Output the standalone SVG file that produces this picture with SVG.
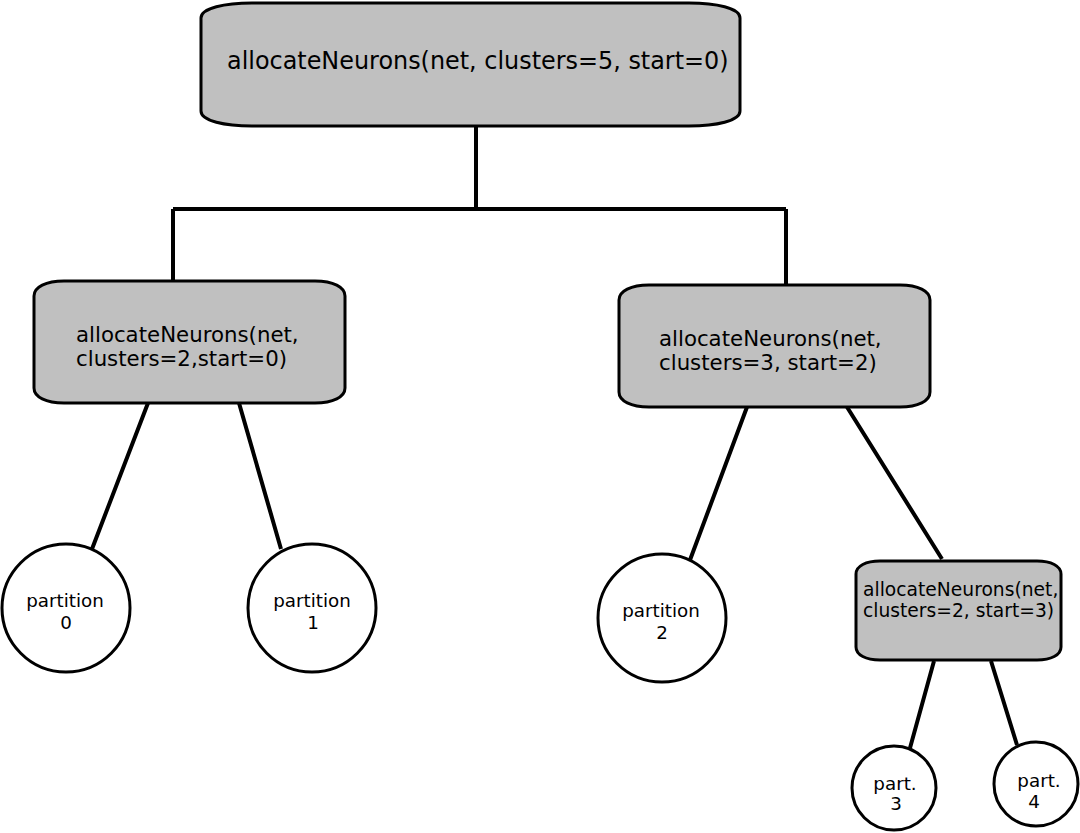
<svg xmlns="http://www.w3.org/2000/svg" width="1080" height="833" viewBox="0 0 1080 833">
<style>
.box{fill:#c0c0c0;stroke:#000;stroke-width:3}
.circ{fill:#fff;stroke:#000;stroke-width:3}
.conn{stroke:#000;stroke-width:4;fill:none}
text{font-family:"DejaVu Sans",sans-serif;fill:#000}
.c{font-size:18.3px;text-anchor:middle}
</style>
<rect width="1080" height="833" fill="#fff"/>
<g id="connectors">
<path class="conn" d="M476,126 V209 M173,209 H786 M173,209 V280 M786,209 V284"/>
<path class="conn" d="M148,403 L92,549 M239,403 L281,549"/>
<path class="conn" d="M747,407 L690,560 M847,407 L942,559"/>
<path class="conn" d="M934,661 L910,748 M991,661 L1017,745"/>
</g>
<g id="n_root">
<path class="box" d="M201,18 C201,8 225,3 252,3 H689 C716,3 740,8 740,18 V111 C740,121 716,126 689,126 H252 C225,126 201,121 201,111 Z"/>
<text x="227" y="69" font-size="23.9">allocateNeurons(net, clusters=5, start=0)</text>
</g>
<g id="n_left">
<path class="box" d="M34,296 C34,287 46,281 64,281 H315 C333,281 345,287 345,296 V388 C345,397 333,403 315,403 H64 C46,403 34,397 34,388 Z"/>
<text x="76" y="342" font-size="21.3">allocateNeurons(net,</text>
<text x="76" y="366" font-size="21.3">clusters=2,start=0)</text>
</g>
<g id="n_right">
<path class="box" d="M619,300 C619,291 631,285 649,285 H900 C918,285 930,291 930,300 V392 C930,401 918,407 900,407 H649 C631,407 619,401 619,392 Z"/>
<text x="659" y="346" font-size="21.3">allocateNeurons(net,</text>
<text x="659" y="370" font-size="21.3">clusters=3, start=2)</text>
</g>
<g id="n_sub">
<path class="box" d="M856,574 C856,566 866,561 880,561 H1037 C1051,561 1061,566 1061,574 V647 C1061,655 1051,660 1037,660 H880 C866,660 856,655 856,647 Z"/>
<text x="863" y="596" font-size="18.7">allocateNeurons(net,</text>
<text x="863" y="617" font-size="18.7">clusters=2, start=3)</text>
</g>
<g id="p0">
<circle class="circ" cx="66" cy="608" r="64"/>
<text x="65" y="607" class="c">partition</text>
<text x="66" y="629" class="c">0</text>
</g>
<g id="p1">
<circle class="circ" cx="312" cy="608" r="64"/>
<text x="312" y="607" class="c">partition</text>
<text x="313" y="629" class="c">1</text>
</g>
<g id="p2">
<circle class="circ" cx="662" cy="618" r="64"/>
<text x="661" y="617" class="c">partition</text>
<text x="662" y="639" class="c">2</text>
</g>
<g id="p3">
<circle class="circ" cx="894" cy="788" r="42"/>
<text x="895" y="790" class="c">part.</text>
<text x="896" y="810" class="c">3</text>
</g>
<g id="p4">
<circle class="circ" cx="1036" cy="784" r="42"/>
<text x="1039" y="787" class="c">part.</text>
<text x="1034" y="808" class="c">4</text>
</g>
</svg>
